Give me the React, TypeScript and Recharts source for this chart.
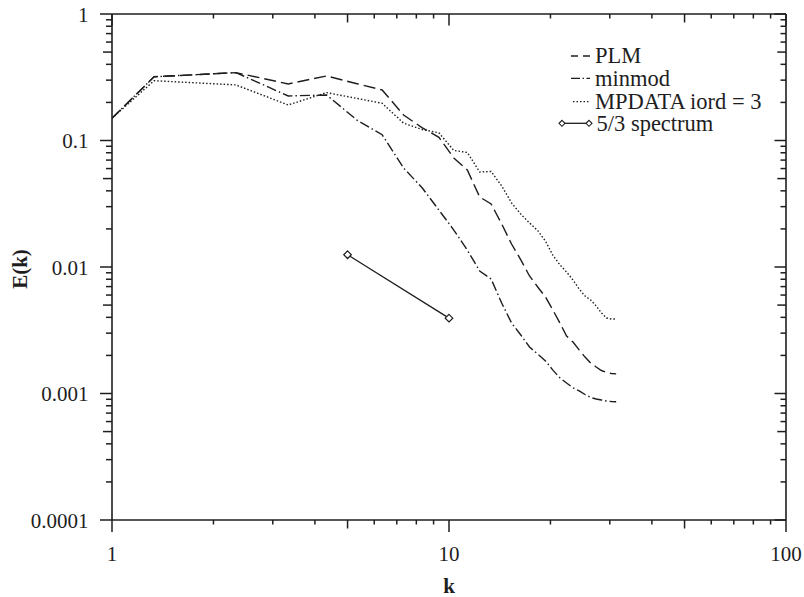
import React from 'react';
import { LineChart, Line, XAxis, YAxis, Legend, Label } from 'recharts';

// wavenumber grid
const kValues = [1, 1.333, 2.333, 3.333, 4.333, 5.333, 6.333, 7.333, 8.333, 9.333, 10.333, 11.333, 12.333, 13.333, 14.333, 15.333, 16.333, 17.333, 18.333, 19.333, 20.333, 21.333, 22.333, 23.333, 24.333, 25.333, 26.333, 27.333, 28.333, 29.333, 30.333, 31.333];

const plm = [0.150, 0.319, 0.344, 0.280, 0.324, 0.281, 0.251, 0.159, 0.126, 0.106, 0.0727, 0.0584, 0.0358, 0.0315, 0.0219, 0.0152, 0.0114, 0.00849, 0.00695, 0.00579, 0.00457, 0.00361, 0.00285, 0.00255, 0.00221, 0.00194, 0.00174, 0.00162, 0.00152, 0.00147, 0.00144, 0.00143];

const minmod = [0.150, 0.319, 0.344, 0.225, 0.229, 0.145, 0.111, 0.0606, 0.0421, 0.0282, 0.0196, 0.0136, 0.00930, 0.00804, 0.00519, 0.00361, 0.00290, 0.00233, 0.00205, 0.00181, 0.00153, 0.00133, 0.00121, 0.00111, 0.00105, 0.000982, 0.000930, 0.000905, 0.000888, 0.000872, 0.000864, 0.000861];

const mpdata = [0.150, 0.297, 0.275, 0.191, 0.239, 0.215, 0.197, 0.137, 0.122, 0.115, 0.0834, 0.0804, 0.0564, 0.0569, 0.0437, 0.0321, 0.0262, 0.0223, 0.0194, 0.0160, 0.0124, 0.0104, 0.00913, 0.00789, 0.00670, 0.00590, 0.00548, 0.00492, 0.00433, 0.00395, 0.00388, 0.00388];

const spectrumK = [5, 10];
const spectrumE = [0.0125, 0.00394];

const xTicks = [1, 2, 3, 4, 5, 6, 7, 8, 9, 10, 20, 30, 40, 50, 60, 70, 80, 90, 100];
const yTicks = [0.0001, 0.0002, 0.0003, 0.0004, 0.0005, 0.0006, 0.0007, 0.0008, 0.0009, 0.001, 0.002, 0.003, 0.004, 0.005, 0.006, 0.007, 0.008, 0.009, 0.01, 0.02, 0.03, 0.04, 0.05, 0.06, 0.07, 0.08, 0.09, 0.1, 0.2, 0.3, 0.4, 0.5, 0.6, 0.7, 0.8, 0.9, 1];

const seriesNames = ['PLM', 'minmod', 'MPDATA iord = 3', '5/3 spectrum'];

const INK = '#1e1e1e';
const FONT = "'Liberation Serif', 'Times New Roman', Times, serif";
const txt = (size: number, bold = false): React.CSSProperties => ({
  fontFamily: FONT,
  fontSize: size,
  fontWeight: bold ? 'bold' : 'normal',
});

const plmData = kValues.map((k, i) => ({ k, E: plm[i] }));
const minmodData = kValues.map((k, i) => ({ k, E: minmod[i] }));
const mpdataData = kValues.map((k, i) => ({ k, E: mpdata[i] }));
const spectrumData = spectrumK.map((k, i) => ({ k, E: spectrumE[i] }));

const isDecade = (v: number) => Math.abs(Math.log10(v) - Math.round(Math.log10(v))) < 1e-6;
const isFive = (v: number) => {
  const m = v / Math.pow(10, Math.floor(Math.log10(v) + 1e-9));
  return Math.abs(m - 5) < 1e-6;
};

const BottomTick = (p: any) => {
  const { x, y, payload } = p;
  const v = payload.value;
  const len = isDecade(v) ? 12 : isFive(v) ? 8.5 : 4.5;
  return (
    <g>
      <line x1={x} y1={y} x2={x} y2={y + len} stroke={INK} strokeWidth={1.5} />
      {isDecade(v) && (
        <text x={x} y={y + 41} textAnchor="middle" style={txt(21)} fill={INK}>
          {String(v)}
        </text>
      )}
    </g>
  );
};

const TopTick = (p: any) => {
  const { x, y, payload } = p;
  const v = payload.value;
  const len = isDecade(v) ? 11.5 : isFive(v) ? 8.5 : 4.5;
  return <line x1={x} y1={y} x2={x} y2={y + len} stroke={INK} strokeWidth={1.5} />;
};

const LeftTick = (p: any) => {
  const { x, y, payload } = p;
  const v = payload.value;
  const len = isDecade(v) ? 12 : isFive(v) ? 9 : 6;
  return (
    <g>
      <line x1={x - len} y1={y} x2={x} y2={y} stroke={INK} strokeWidth={1.5} />
      {isDecade(v) && (
        <text x={x - 23.5} y={y + 7.5} textAnchor="end" style={txt(21)} fill={INK}>
          {String(v)}
        </text>
      )}
    </g>
  );
};

const RightTick = (p: any) => {
  const { x, y, payload } = p;
  const v = payload.value;
  const len = isDecade(v) ? 11.5 : isFive(v) ? 8.7 : 5.5;
  return <line x1={x - len} y1={y} x2={x} y2={y} stroke={INK} strokeWidth={1.5} />;
};

const Diamond = (p: any) => {
  const { cx, cy, index } = p;
  if (cx == null || cy == null) return <g key={index} />;
  const r = 3.8;
  return (
    <path
      key={index}
      d={`M${cx} ${cy - r}L${cx + r} ${cy}L${cx} ${cy + r}L${cx - r} ${cy}Z`}
      fill="#fff"
      stroke={INK}
      strokeWidth={1.2}
    />
  );
};

const KLabel = (p: any) => {
  const vb = p.viewBox || { x: 112, y: 520, width: 674, height: 77 };
  return (
    <text x={vb.x + vb.width / 2} y={vb.y + 73} textAnchor="middle" style={txt(21, true)} fill={INK}>
      k
    </text>
  );
};

const ELabel = (p: any) => {
  const vb = p.viewBox || { x: 0, y: 14, width: 112, height: 506 };
  const cx = vb.x + 19.5;
  const cy = vb.y + vb.height / 2 + 2;
  return (
    <text x={cx} y={cy} transform={`rotate(-90, ${cx}, ${cy})`} textAnchor="middle" dominantBaseline="central" style={txt(21, true)} fill={INK}>
      E(k)
    </text>
  );
};

const LegendContent = () => {
  const textX = 45;
  const s = txt(22.5);
  return (
    <svg width={260} height={100} style={{ overflow: 'visible', display: 'block' }}>
      <line x1={21} y1={16} x2={40} y2={16} stroke={INK} strokeWidth={1.3} strokeDasharray="7 5" />
      <text x={textX} y={23.3} style={s} fill={INK}>{seriesNames[0]}</text>
      <line x1={21} y1={38.3} x2={40} y2={38.3} stroke={INK} strokeWidth={1.3} strokeDasharray="9 2.5 1.5 2.5" />
      <text x={textX} y={46} style={s} fill={INK}>{seriesNames[1]}</text>
      <line x1={23} y1={61.7} x2={40} y2={61.7} stroke={INK} strokeWidth={1.3} strokeDasharray="1.5 2" />
      <text x={textX} y={69} style={s} fill={INK}>{seriesNames[2]}</text>
      <line x1={12} y1={83.3} x2={39} y2={83.3} stroke={INK} strokeWidth={1.3} />
      <path d="M12 80.3L15 83.3L12 86.3L9 83.3Z" fill="#fff" stroke={INK} strokeWidth={1.1} />
      <path d="M39 80.3L42 83.3L39 86.3L36 83.3Z" fill="#fff" stroke={INK} strokeWidth={1.1} />
      <text x={textX + 1.5} y={90.7} style={s} fill={INK}>{seriesNames[3]}</text>
    </svg>
  );
};

const axisLine = { stroke: INK, strokeWidth: 1.6 };

export default function App() {
  return (
    <div style={{ width: 804, height: 597 }}>
      <style>{`html,body{margin:0;padding:0;overflow:hidden;}`}</style>
      <LineChart width={804} height={597} margin={{ top: 0, right: 0, bottom: 0, left: 0 }}>
        <XAxis
          xAxisId="b"
          dataKey="k"
          type="number"
          scale="log"
          domain={[1, 100]}
          allowDataOverflow
          ticks={xTicks}
          interval={0}
          tickSize={0}
          tickMargin={0}
          tickLine={false}
          tick={BottomTick}
          axisLine={axisLine}
          height={77}
          orientation="bottom"
        >
          <Label content={KLabel} />
        </XAxis>
        <XAxis
          xAxisId="t"
          dataKey="k"
          type="number"
          scale="log"
          domain={[1, 100]}
          allowDataOverflow
          ticks={xTicks}
          interval={0}
          tickSize={0}
          tickMargin={0}
          tickLine={false}
          tick={TopTick}
          axisLine={axisLine}
          height={14}
          orientation="top"
        />
        <YAxis
          yAxisId="l"
          type="number"
          scale="log"
          domain={[0.0001, 1]}
          allowDataOverflow
          ticks={yTicks}
          interval={0}
          tickSize={0}
          tickMargin={0}
          tickLine={false}
          tick={LeftTick}
          axisLine={axisLine}
          width={112}
          orientation="left"
        >
          <Label content={ELabel} />
        </YAxis>
        <YAxis
          yAxisId="r"
          type="number"
          scale="log"
          domain={[0.0001, 1]}
          allowDataOverflow
          ticks={yTicks}
          interval={0}
          tickSize={0}
          tickMargin={0}
          tickLine={false}
          tick={RightTick}
          axisLine={axisLine}
          width={18}
          orientation="right"
        />
        <Legend
          layout="horizontal"
          verticalAlign="middle"
          align="center"
          content={LegendContent}
          wrapperStyle={{ left: 550, top: 40, width: 260, height: 100 }}
        />
        <Line xAxisId="b" yAxisId="l" data={plmData} dataKey="E" name={seriesNames[0]} type="linear" stroke={INK} strokeWidth={1.4} strokeDasharray="12 5" dot={false} isAnimationActive={false} />
        <Line xAxisId="b" yAxisId="l" data={minmodData} dataKey="E" name={seriesNames[1]} type="linear" stroke={INK} strokeWidth={1.4} strokeDasharray="10 3 1.5 3" dot={false} isAnimationActive={false} />
        <Line xAxisId="b" yAxisId="l" data={mpdataData} dataKey="E" name={seriesNames[2]} type="linear" stroke={INK} strokeWidth={1.4} strokeDasharray="1.5 2" dot={false} isAnimationActive={false} />
        <Line xAxisId="b" yAxisId="l" data={spectrumData} dataKey="E" name={seriesNames[3]} type="linear" stroke={INK} strokeWidth={1.3} dot={Diamond} isAnimationActive={false} />
      </LineChart>
    </div>
  );
}
